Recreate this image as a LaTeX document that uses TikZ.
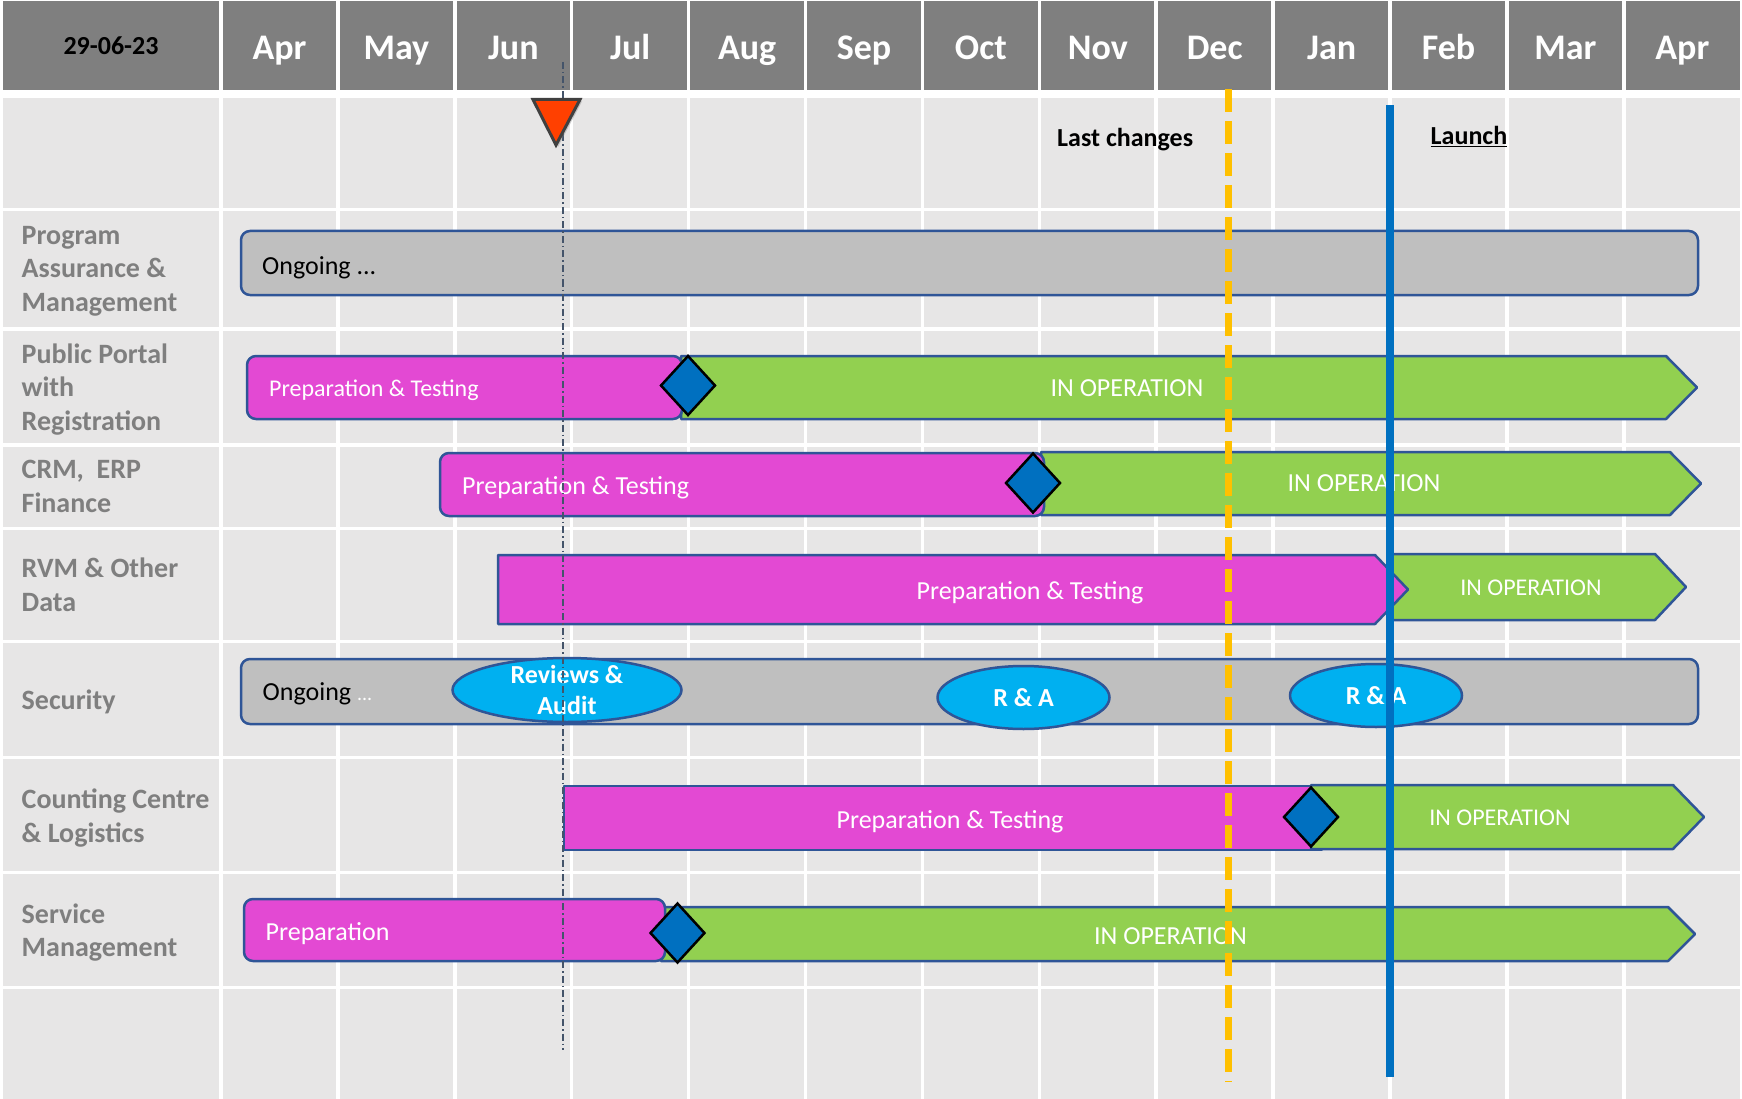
\documentclass[tikz,border=0pt]{standalone}
\usepackage{fontspec}
\setmainfont{Carlito}
\usetikzlibrary{shapes.geometric, shadows, positioning}

\definecolor{hdrgray}{HTML}{7F7F7F}
\definecolor{cellgray}{HTML}{E7E6E6}
\definecolor{labgray}{HTML}{7F7F7F}
\definecolor{barblue}{HTML}{2F5597}
\definecolor{ongray}{HTML}{BFBFBF}
\definecolor{prepmag}{HTML}{E349D3}
\definecolor{opgreen}{HTML}{92D050}
\definecolor{mileblue}{HTML}{0070C0}
\definecolor{revcyan}{HTML}{00B0F0}
\definecolor{lastorange}{HTML}{FFC000}
\definecolor{todayred}{HTML}{FF4000}
\definecolor{todayline}{HTML}{44546A}

\begin{document}
\begin{tikzpicture}[x=1pt, y=-1pt,
  month/.style={anchor=base, inner sep=0pt, text=white, font=\fontsize{36}{40}\selectfont\bfseries},
  rowlabel/.style={anchor=west, align=left, inner sep=0pt, text=labgray, font=\fontsize{28}{33.5}\selectfont\bfseries},
  bar/.style={draw=barblue, line width=2.5pt, line join=round},
  ongoing/.style={bar, fill=ongray, rounded corners=9pt},
  prep/.style={bar, fill=prepmag},
  oper/.style={bar, fill=opgreen},
  milestone/.style={diamond, draw=black, line width=2.5pt, fill=mileblue, minimum width=55pt, minimum height=60pt, inner sep=0pt},
  review/.style={ellipse, draw=barblue, line width=2.5pt, fill=revcyan, minimum width=172pt, minimum height=63pt, inner sep=0pt},
  revtext/.style={inner sep=0pt, align=center, text=white, font=\fontsize{26}{31.5}\selectfont\bfseries},
  bartext/.style={anchor=base, inner sep=0pt, text=white, font=\fontsize{26}{31}\selectfont},
  small/.style={font=\fontsize{24}{29}\selectfont},
  gridline/.style={white, line width=3.5pt}]

  \useasboundingbox (0,0) rectangle (1742,1099);
  \fill[white] (0,0) rectangle (1742,1099);
  \fill[hdrgray] (3,1) rectangle (1740,90);
  \fill[cellgray] (3,98) rectangle (1740,1099);
  \foreach \x in {0,...,12}
    \draw[gridline] (221+116.9*\x,0) -- (221+116.9*\x,1099);
  \foreach \y in {209.5,329,445,528.5,641.5,757.5,872.5,987.5}
    \draw[gridline] (3,\y) -- (1740,\y);

  \node[anchor=base, inner sep=0pt, font=\fontsize{26}{30}\selectfont\bfseries] (date) at (111,55) {29-06-23};
  \foreach \m [count=\i from 0] in {Apr,May,Jun,Jul,Aug,Sep,Oct,Nov,Dec,Jan,Feb,Mar,Apr}
    \node[month] (month\i) at (279.5+116.9*\i,60) {\m};

  \node[rowlabel] (prog) at (21.5,271) {Program\\Assurance \&\\Management};
  \node[rowlabel] (portal) at (21.5,389.5) {Public Portal\\with\\Registration};
  \node[rowlabel] (crm) at (21.5,486.5) {CRM,\ \ ERP\\Finance};
  \node[rowlabel] (rvm) at (21.5,585) {RVM \& Other\\Data};
  \node[rowlabel] (security) at (21.5,702) {Security};
  \node[rowlabel] (counting) at (21.5,818) {Counting Centre\\\& Logistics};
  \node[rowlabel] (service) at (21.5,932.5) {Service\\Management};

  \draw[ongoing] (241,231) rectangle (1698,295);
  \node[bartext, anchor=base west, text=black] (progtext) at (262,275) {Ongoing ...};

  \draw[oper] (681,356) -- (1666,356) -- (1697,387.5) -- (1666,419) -- (681,419) -- cycle;
  \draw[prep, rounded corners=9pt] (247,356) rectangle (682,419);
  \node[milestone] (portalgo) at (688,385.5) {};
  \node[bartext, small, anchor=base west] (portalprep) at (269,396.5) {Preparation \& Testing};
  \node[bartext] (portalop) at (1127,396) {IN OPERATION};

  \draw[oper] (1041,452) -- (1670,452) -- (1701,483.5) -- (1670,515) -- (1041,515) -- cycle;
  \draw[prep, rounded corners=9pt] (440,453) rectangle (1044,516);
  \node[milestone] (crmgo) at (1033,483) {};
  \node[bartext, anchor=base west] (crmprep) at (462,494) {Preparation \& Testing};
  \node[bartext] (crmop) at (1364,491.5) {IN OPERATION};

  \draw[oper] (1391,554) -- (1655,554) -- (1686,587) -- (1655,620) -- (1391,620) -- cycle;
  \draw[prep] (498,555) -- (1375,555) -- (1408,589.5) -- (1375,624) -- (498,624) -- cycle;
  \node[bartext] (rvmprep) at (1030,599) {Preparation \& Testing};
  \node[bartext, small] (rvmop) at (1531,595) {IN OPERATION};

  \draw[ongoing] (241,659) rectangle (1698,724);
  \node[bartext, anchor=base west, text=black] (sectext) at (262.5,700.5) {Ongoing {\color{white}\fontsize{20}{24}\selectfont ...}};
  \node[review, minimum width=229pt, minimum height=64pt] (audit) at (567,690) {};
  \node[revtext] (audittext) at (audit.center) {Reviews \&\\Audit};
  \node[review, revtext] (ra1) at (1023.5,697.5) {R \& A};
  \node[review, revtext] (ra2) at (1376,695.5) {R \& A};

  \draw[prep] (564,786) rectangle (1322,850);
  \draw[oper] (1311,785) -- (1673,785) -- (1704,817) -- (1673,849) -- (1311,849) -- cycle;
  \node[milestone] (countgo) at (1311,817) {};
  \node[bartext] (countprep) at (950,828) {Preparation \& Testing};
  \node[bartext, small] (countop) at (1500,825) {IN OPERATION};

  \draw[oper] (661,907) -- (1668,907) -- (1695,934) -- (1668,961) -- (661,961) -- cycle;
  \draw[prep, rounded corners=9pt] (244,899) rectangle (665,961);
  \node[milestone] (servgo) at (677.5,933) {};
  \node[bartext, anchor=base west] (servprep) at (265.5,940) {Preparation};
  \node[bartext] (servop) at (1170.5,944) {IN OPERATION};

  \coordinate (today top) at (563,62);
  \coordinate (today bot) at (563,1050);
  \draw[todayline, line width=1.2pt, dash pattern=on 7pt off 3pt on 1.5pt off 3pt] (today top) -- (today bot);
  \draw[fill=todayred, draw=black!75, line width=3pt, line join=miter,
    drop shadow={shadow xshift=2pt, shadow yshift=-2pt, opacity=0.35}]
    (533,99.5) -- (580,99.5) -- (556,145) -- cycle;

  \coordinate (freeze top) at (1228,89);
  \coordinate (freeze bot) at (1228,1082);
  \draw[lastorange, line width=7pt, dash pattern=on 23pt off 9pt] (freeze top) -- (freeze bot);
  \coordinate (launch top) at (1390,105);
  \coordinate (launch bot) at (1390,1077);
  \draw[mileblue, line width=7.5pt] (launch top) -- (launch bot);

  \node[anchor=base west, inner sep=0pt, font=\fontsize{26}{31}\selectfont\bfseries] (lastchg) at (1057,146.5) {Last changes};
  \node[anchor=base west, inner sep=0pt, font=\fontsize{26}{31}\selectfont\bfseries] (launch) at (1430.5,145) {\underline{Launch}};
\end{tikzpicture}
\end{document}
